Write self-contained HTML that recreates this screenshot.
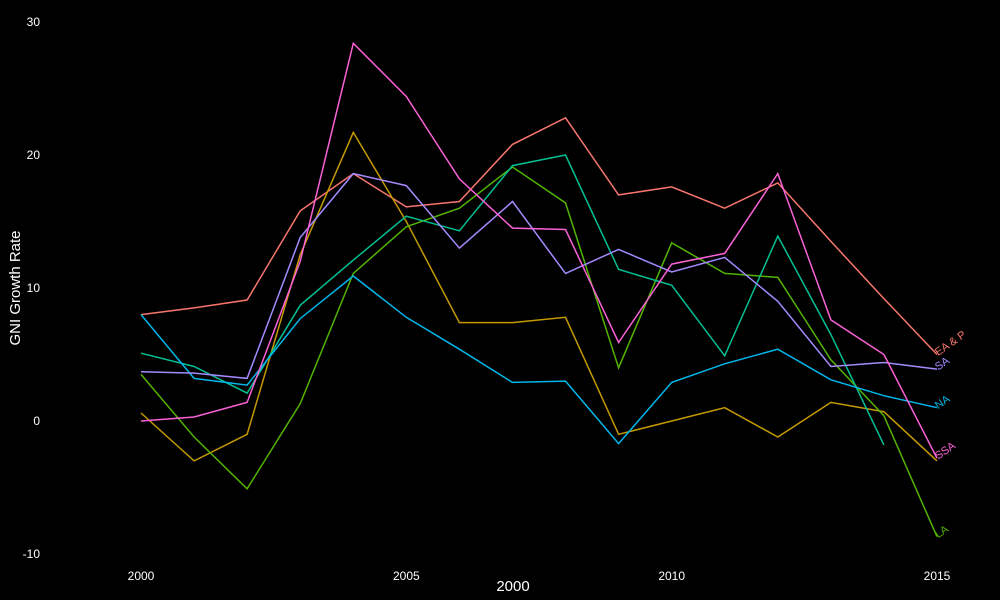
<!DOCTYPE html>
<html><head><meta charset="utf-8"><style>
html,body{margin:0;padding:0;background:#000}
svg{display:block;font-family:"Liberation Sans",sans-serif}
</style></head><body>
<svg id="chart" width="1000" height="600" viewBox="0 0 1000 600">
<rect width="1000" height="600" fill="#000"/>
<g id="yticks"></g>
<g id="xticks"></g>
<g id="lines"></g>
<text x="20" y="288" transform="rotate(-90 20 288)" text-anchor="middle" fill="#fff" font-size="15">GNI Growth Rate</text>
<text x="513" y="591" text-anchor="middle" fill="#fff" font-size="15">2000</text>
</svg>
<script>
const years = [2000,2001,2002,2003,2004,2005,2006,2007,2008,2009,2010,2011,2012,2013,2014,2015];
const yTickValues = [-10,0,10,20,30];
const xTickValues = [2000,2005,2010,2015];
const seriesNames = ["EA & P","mustard","LA","teal","NA","SA","SSA"];
const seriesLabels = ["EA & P","","LA","","NA","SA","SSA"];
const seriesColors = ["#F8766D","#C49A00","#53B400","#00C094","#00B6EB","#A58AFF","#FB61D7"];
const eap = [8.0,8.5,9.1,15.8,18.6,16.1,16.5,20.8,22.8,17.0,17.6,16.0,17.9,13.5,9.2,5.0];
const mustard = [0.6,-3.0,-1.0,12.5,21.7,15.0,7.4,7.4,7.8,-1.0,0.0,1.0,-1.2,1.4,0.7,-3.0];
const la = [3.5,-1.2,-5.1,1.3,11.1,14.6,16.0,19.1,16.4,4.0,13.4,11.1,10.8,4.6,0.4,-8.7];
const teal = [5.1,4.1,2.1,8.7,12.1,15.4,14.3,19.2,20.0,11.4,10.2,4.9,13.9,6.5,-1.8,null];
const na = [8.0,3.2,2.7,7.7,10.9,7.8,5.4,2.9,3.0,-1.7,2.9,4.3,5.4,3.1,1.9,1.0];
const sa = [3.7,3.6,3.2,13.8,18.6,17.7,13.0,16.5,11.1,12.9,11.2,12.3,9.0,4.1,4.4,3.9];
const ssa = [0.0,0.3,1.4,12.0,28.4,24.4,18.2,14.5,14.4,5.9,11.8,12.6,18.6,7.6,5.0,-2.8];
const allSeries = [eap,mustard,la,teal,na,sa,ssa];

const NS="http://www.w3.org/2000/svg";
const xScale = y => 141 + (y-2000)*(937-141)/15;
const yScale = v => 421 - v*13.3;
function mk(tag, attrs, parent){const e=document.createElementNS(NS,tag);for(const k in attrs)e.setAttribute(k,attrs[k]);parent.appendChild(e);return e;}
const yt=document.getElementById('yticks');
yTickValues.forEach(v=>{const t=mk('text',{x:40,y:yScale(v)+4,'text-anchor':'end',fill:'#fff','font-size':12},yt);


t.textContent=v;});
const xt=document.getElementById('xticks');
xTickValues.forEach(v=>{const t=mk('text',{x:xScale(v),y:580,'text-anchor':'middle',fill:'#fff','font-size':12},xt);


t.textContent=v;});
const lg=document.getElementById('lines');
allSeries.forEach((s,i)=>{
  let d='';let last=null;
  s.forEach((v,j)=>{if(v===null)return;d+=(d?'L':'M')+xScale(years[j]).toFixed(1)+','+yScale(v).toFixed(1);last=j;});
  const p=mk('path',{d:d,fill:'none',stroke:seriesColors[i],'stroke-width':1.5},lg);
  
  
  if(seriesLabels[i]){
    const x=xScale(years[last]), y=yScale(s[last]);
    const t=mk('text',{x:x,y:y+2,fill:seriesColors[i],'font-size':11,transform:`rotate(-35 ${x} ${y})`},lg);
    
    
    t.textContent=seriesLabels[i];
  }
});
</script>
</body></html>
